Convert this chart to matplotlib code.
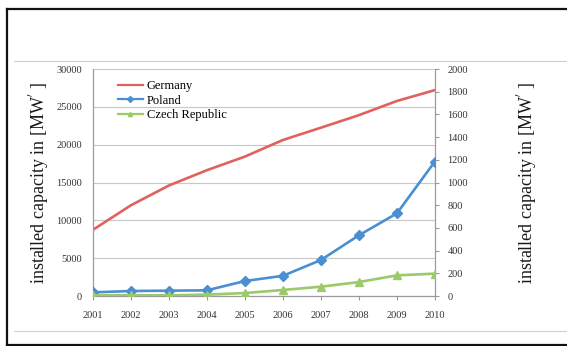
import matplotlib.pyplot as plt
from matplotlib.lines import Line2D

# --- Donnees ---
years = [2001, 2002, 2003, 2004, 2005, 2006, 2007, 2008, 2009, 2010]
germany = [8754, 11994, 14609, 16629, 18428, 20622, 22247, 23903, 25777, 27214]
poland = [32, 44, 47, 50, 132, 178, 317, 535, 728, 1185]
czech = [6, 6, 6, 12, 26, 53, 82, 123, 182, 197]

left_ticks = [0, 5000, 10000, 15000, 20000, 25000, 30000]
right_ticks = [0, 200, 400, 600, 800, 1000, 1200, 1400, 1600, 1800, 2000]

plt.rcParams['font.family'] = ['Liberation Serif', 'DejaVu Serif']

red, blue, green = "#E0625E", "#4A8FD2", "#9CC96A"
grey = "#9a9a9a"
txt = "#333333"

fig = plt.figure(figsize=(5.67, 3.46), dpi=100)
ax = fig.add_axes([0.164, 0.1445, 0.603, 0.656])
ax2 = ax.twinx()

ax.plot(years, germany, color=red, lw=1.9, zorder=3)
ax2.plot(years, poland, color=blue, lw=1.9, marker="D", ms=5, zorder=3)
ax2.plot(years, czech, color=green, lw=1.9, marker="^", ms=5.5, zorder=3)

ax.set_xlim(years[0], years[-1])
ax.set_ylim(0, 30000)
ax2.set_ylim(0, 2000)
ax.set_xticks(years)
ax.set_yticks(left_ticks)
ax2.set_yticks(right_ticks)

ax.grid(axis="y", color="#c8c8c8", lw=0.8)
ax.set_axisbelow(True)
for a in (ax, ax2):
    for s in a.spines.values():
        s.set_color(grey)
        s.set_linewidth(0.8)
    a.spines["top"].set_visible(False)
ax.tick_params(axis="x", length=3, color=grey, labelsize=7.5, labelcolor=txt, pad=8)
ax.tick_params(axis="y", length=0, labelsize=7.5, labelcolor=txt, pad=8)
ax2.tick_params(axis="y", length=3, color=grey, labelsize=7.5, labelcolor=txt, pad=6)

ylab = "installed capacity in [MW$^{'}$ ]"
ax.set_ylabel(ylab, fontsize=13, color="#1a1a1a", labelpad=4)
ax2.set_ylabel(ylab, fontsize=13, color="#1a1a1a", labelpad=33)

handles = [Line2D([], [], color=red, lw=1.6),
           Line2D([], [], color=blue, lw=1.6, marker="D", ms=3),
           Line2D([], [], color=green, lw=1.6, marker="^", ms=3)]
ax.legend(handles, ["Germany", "Poland", "Czech Republic"], loc="upper left",
          bbox_to_anchor=(0.04, 1.0), frameon=False, fontsize=9,
          handlelength=2.0, handletextpad=0.3, labelspacing=0.2)

# cadre de la capture
fig.add_artist(Line2D([7 / 567, 7 / 567], [0, 1 - 9 / 346], color="#111111", lw=1.6))
fig.add_artist(Line2D([7 / 567, 1], [1 - 9 / 346, 1 - 9 / 346], color="#111111", lw=1.6))
fig.add_artist(Line2D([7 / 567, 1], [1 / 346, 1 / 346], color="#111111", lw=1.6))
fig.add_artist(Line2D([14 / 567, 1], [1 - 61 / 346, 1 - 61 / 346], color="#d0d0d0", lw=0.8))
fig.add_artist(Line2D([14 / 567, 1], [1 - 331 / 346, 1 - 331 / 346], color="#d0d0d0", lw=0.8))

fig.savefig("out.png", dpi=100)
